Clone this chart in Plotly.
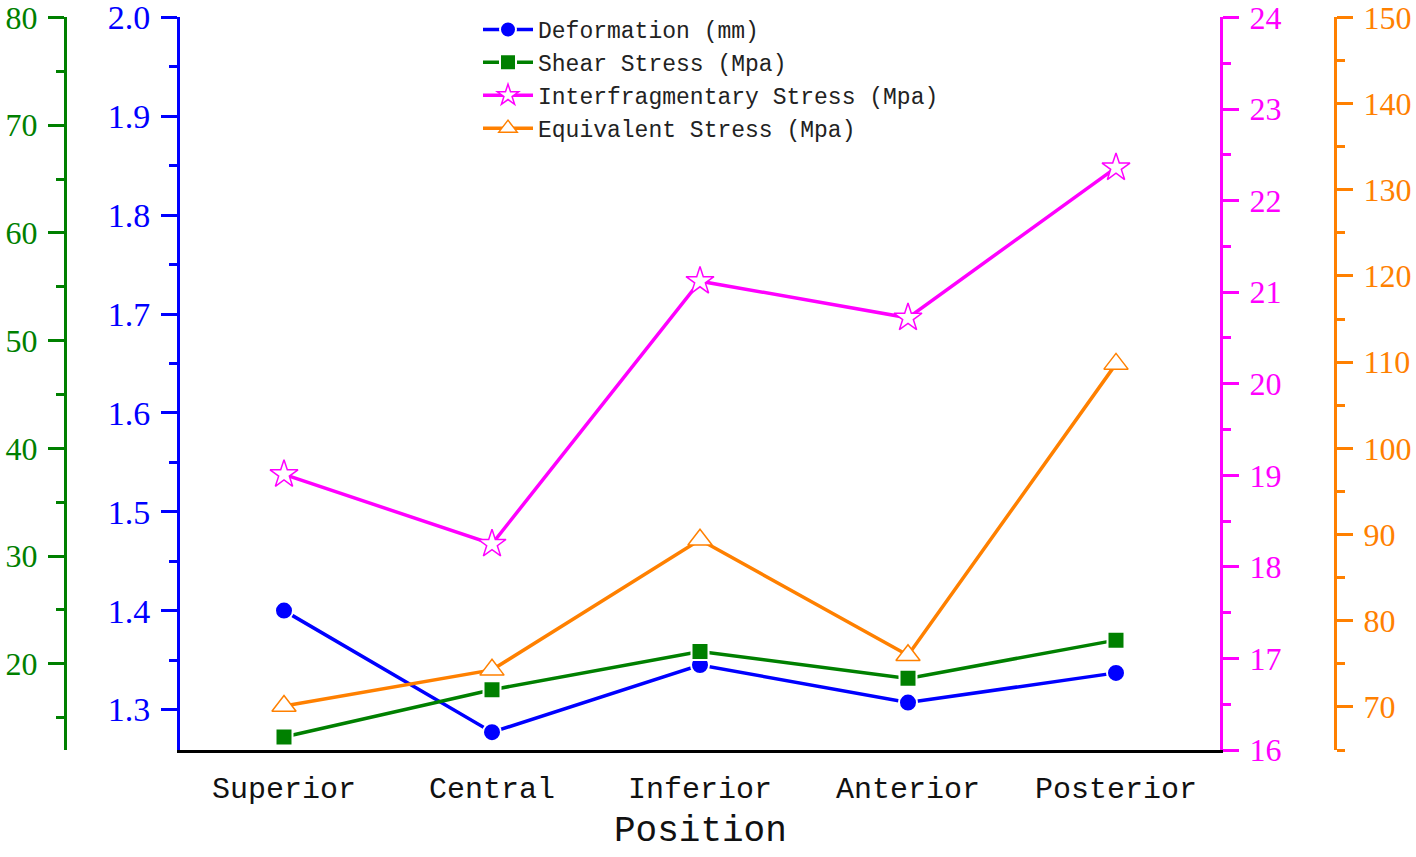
import plotly.graph_objects as go

positions = ["Superior", "Central", "Inferior", "Anterior", "Posterior"]
deformation = [1.400, 1.277, 1.345, 1.307, 1.337]
shear_stress = [13.2, 17.6, 21.15, 18.65, 22.2]
interfrag_stress = [19.01, 18.25, 21.12, 20.72, 22.36]
equivalent_stress = [70.1, 74.3, 89.4, 76.0, 109.8]

BLUE = "#0000FF"
GREEN = "#008000"
MAGENTA = "#FF00FF"
ORANGE = "#FF8000"

W, H = 1416, 857
TOP, BOT = 17, 107
x0, x1 = 180 / W, 1220 / W
plot_h = H - TOP - BOT

fig = go.Figure()
fig.add_trace(go.Scatter(
    x=positions, y=deformation, name="Deformation (mm)", yaxis="y",
    mode="lines+markers", line=dict(color=BLUE, width=3.5),
    marker=dict(symbol="circle", size=18, color=BLUE, line=dict(color="white", width=2))))
fig.add_trace(go.Scatter(
    x=positions, y=shear_stress, name="Shear Stress (Mpa)", yaxis="y2",
    mode="lines+markers", line=dict(color=GREEN, width=3.5),
    marker=dict(symbol="square", size=17, color=GREEN, line=dict(color="white", width=2))))
fig.add_trace(go.Scatter(
    x=positions, y=interfrag_stress, name="Interfragmentary Stress (Mpa)", yaxis="y3",
    mode="lines+markers", line=dict(color=MAGENTA, width=3.5),
    marker=dict(symbol="star", size=21, color="white", line=dict(color=MAGENTA, width=1.5))))
fig.add_trace(go.Scatter(
    x=positions, y=equivalent_stress, name="Equivalent Stress (Mpa)", yaxis="y4",
    mode="lines+markers", line=dict(color=ORANGE, width=3.5),
    marker=dict(symbol="triangle-up", size=21, color="white", line=dict(color=ORANGE, width=1.5))))

num_font = "Liberation Serif"
mono = "Liberation Mono"

def yax(color, rng, dtick, mdtick, fmt, fsize=32, **kw):
    d = dict(
        range=rng, dtick=dtick, tick0=0, tickformat=fmt,
        showline=True, linecolor=color, linewidth=3,
        ticks="outside", ticklen=16, tickwidth=3, tickcolor=color,
        minor=dict(dtick=mdtick, tick0=0, ticks="outside", ticklen=8, tickwidth=3, tickcolor=color, showgrid=False),
        tickfont=dict(family=num_font, size=fsize, color=color),
        ticklabelstandoff=4, ticklabeloverflow="allow",
        showgrid=False, zeroline=False, automargin=False,
    )
    d.update(kw)
    return d

fig.update_layout(
    width=W, height=H,
    margin=dict(l=0, r=0, t=TOP, b=BOT),
    paper_bgcolor="white", plot_bgcolor="white",
    showlegend=True,
    legend=dict(
        x=478 / W, y=1 + (TOP - 8) / plot_h, xanchor="left", yanchor="top",
        font=dict(family=mono, size=23, color="#222222"),
        bgcolor="rgba(0,0,0,0)", borderwidth=0, tracegroupgap=0,
        itemwidth=50,
    ),
    xaxis=dict(
        domain=[x0, x1], range=[-0.5, 4.5],
        showline=True, linecolor="black", linewidth=3,
        ticks="", showgrid=False, zeroline=False, automargin=False,
        tickfont=dict(family=mono, size=30, color="#111111"),
        ticklabelstandoff=9,
    ),
    yaxis=yax(BLUE, [1.259, 2.0005], 0.1, 0.05, ".1f", fsize=34, side="left", anchor="x"),
    yaxis2=yax(GREEN, [12, 80.05], 10, 5, "d", side="left", anchor="free",
               overlaying="y", position=65 / W),
    yaxis3=yax(MAGENTA, [16, 24.005], 1, 0.5, "d", side="right", anchor="x", overlaying="y"),
    yaxis4=yax(ORANGE, [65, 150.05], 10, 5, "d", side="right", anchor="free",
               overlaying="y", position=1335 / W),
    annotations=[dict(
        text="Position", xref="paper", yref="paper",
        x=(x0 + x1) / 2, y=-(831 - (H - BOT)) / plot_h,
        xanchor="center", yanchor="middle", showarrow=False,
        font=dict(family=mono, size=36, color="#111111"),
    )],
)

fig.write_html("out.html", config={"displayModeBar": False},
               post_script="document.body.style.margin='0px';")
